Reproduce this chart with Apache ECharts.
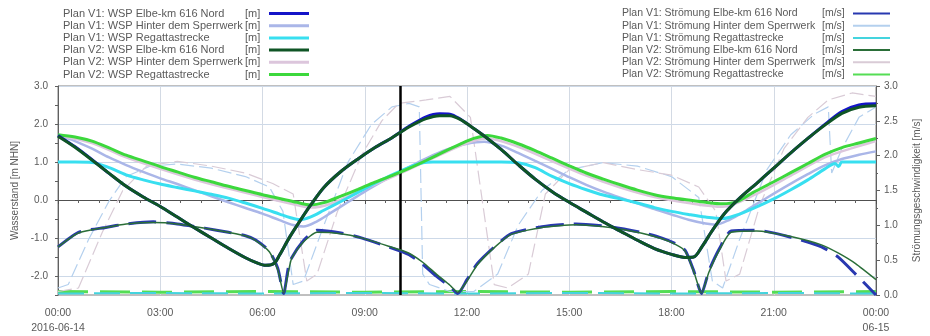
<!DOCTYPE html>
<html>
<head>
<meta charset="utf-8">
<script src="https://cdn.jsdelivr.net/npm/echarts@6/dist/echarts.min.js"></script>
<style>
  html, body { margin: 0; padding: 0; background: #fff; }
  #chart { width: 930px; height: 336px; }
</style>
</head>
<body>
<div id="chart"></div>
<script>
// Time axis: hours after 2016-06-14 00:00
const xTickLabels = ['00:00\n2016-06-14', '03:00', '06:00', '09:00', '12:00', '15:00', '18:00', '21:00', '00:00\n06-15'];
const nowHour = 10.05;

// Wasserstand [m NHN], pairs of [hour, value]
const wspV1Elbe = [[0,1.70],[0.5,1.40],[1,1.06],[1.5,0.70],[2,0.36],[2.5,0.08],[3,-0.17],[3.5,-0.45],[4,-0.73],[4.5,-1.0],[5,-1.27],[5.5,-1.52],[5.8,-1.64],[6.1,-1.72],[6.35,-1.66],[6.5,-1.45],[6.8,-0.97],[7.1,-0.55],[7.4,-0.15],[7.8,0.33],[8.3,0.75],[8.8,1.08],[9.3,1.38],[9.8,1.64],[10.3,1.94],[10.8,2.19],[11.2,2.27],[11.5,2.26],[11.8,2.13],[12.2,1.88],[12.6,1.62],[13,1.33],[13.5,0.93],[14,0.55],[14.5,0.22],[15,-0.06],[15.5,-0.32],[16,-0.58],[16.5,-0.82],[17,-1.06],[17.5,-1.28],[18,-1.43],[18.4,-1.51],[18.65,-1.50],[18.9,-1.22],[19.2,-0.80],[19.55,-0.36],[20,0.05],[20.5,0.44],[21,0.84],[21.5,1.24],[22,1.62],[22.5,1.99],[23,2.33],[23.5,2.50],[24,2.53]];
const wspV1Hinter = [[0,1.70],[0.5,1.55],[1,1.35],[1.5,1.12],[2,0.92],[2.5,0.74],[3,0.57],[3.5,0.42],[4,0.26],[4.5,0.10],[5,-0.06],[5.5,-0.21],[6,-0.36],[6.5,-0.53],[6.9,-0.66],[7.2,-0.70],[7.6,-0.56],[8,-0.34],[8.5,-0.06],[9,0.22],[9.5,0.48],[10,0.73],[10.5,0.96],[11,1.18],[11.5,1.36],[12,1.48],[12.5,1.53],[13,1.43],[13.5,1.24],[14,1.03],[14.5,0.82],[15,0.60],[15.5,0.40],[16,0.22],[16.5,0.06],[17,-0.09],[17.5,-0.24],[18,-0.38],[18.5,-0.52],[19,-0.62],[19.3,-0.65],[19.7,-0.52],[20.2,-0.27],[20.8,0.06],[21.4,0.38],[22,0.68],[22.5,0.91],[23,1.08],[23.5,1.19],[24,1.28]];
const wspV1Regatta = [[0,1.0],[0.5,1.0],[1,0.99],[1.5,0.85],[2,0.66],[2.5,0.53],[3,0.42],[3.5,0.33],[4,0.24],[4.5,0.15],[5,0.05],[5.5,-0.08],[6,-0.22],[6.5,-0.37],[6.8,-0.46],[7.1,-0.52],[7.4,-0.45],[7.8,-0.27],[8.3,-0.04],[8.8,0.20],[9.3,0.44],[9.8,0.66],[10.3,0.86],[10.7,0.98],[11,1.0],[12,1.0],[13,1.0],[13.5,0.98],[14,0.85],[14.5,0.62],[15,0.43],[15.5,0.27],[16,0.13],[16.5,0.03],[17,-0.08],[17.5,-0.20],[18,-0.30],[18.5,-0.38],[19,-0.45],[19.5,-0.49],[19.9,-0.40],[20.4,-0.22],[21,0.03],[21.5,0.27],[22,0.53],[22.5,0.82],[22.8,0.96],[22.9,0.88],[23,1.0],[24,1.0]];
const wspV2Elbe = [[0,1.68],[0.5,1.39],[1,1.05],[1.5,0.70],[2,0.36],[2.5,0.08],[3,-0.17],[3.5,-0.45],[4,-0.73],[4.5,-1.0],[5,-1.27],[5.5,-1.52],[5.8,-1.64],[6.1,-1.72],[6.35,-1.66],[6.5,-1.45],[6.8,-0.97],[7.1,-0.55],[7.4,-0.15],[7.8,0.33],[8.3,0.75],[8.8,1.08],[9.3,1.38],[9.8,1.64],[10.3,1.92],[10.8,2.14],[11.2,2.22],[11.5,2.22],[11.8,2.12],[12.2,1.88],[12.6,1.62],[13,1.33],[13.5,0.93],[14,0.55],[14.5,0.22],[15,-0.06],[15.5,-0.32],[16,-0.58],[16.5,-0.82],[17,-1.06],[17.5,-1.28],[18,-1.43],[18.4,-1.51],[18.65,-1.50],[18.9,-1.22],[19.2,-0.80],[19.55,-0.36],[20,0.05],[20.5,0.44],[21,0.84],[21.5,1.24],[22,1.62],[22.5,1.97],[23,2.28],[23.5,2.44],[24,2.48]];
const wspV2Hinter = [[0,1.70],[1,1.50],[2,1.12],[3,0.82],[4,0.54],[5,0.30],[6,0.08],[7,-0.13],[7.4,-0.20],[8,-0.10],[9,0.30],[10,0.68],[11,1.10],[12,1.50],[12.6,1.62],[13.5,1.40],[14.5,1.02],[15.5,0.64],[16.5,0.33],[17.5,0.08],[18.5,-0.08],[19.5,-0.18],[20.4,0.12],[21.5,0.64],[22.5,1.12],[23.5,1.42],[24,1.55]];
const wspV2Regatta = [[0,1.72],[0.5,1.66],[1,1.55],[1.5,1.37],[2,1.18],[2.5,1.03],[3,0.88],[3.5,0.74],[4,0.60],[4.5,0.48],[5,0.36],[5.5,0.25],[6,0.14],[6.5,0.04],[7,-0.06],[7.4,-0.13],[7.8,-0.07],[8.3,0.10],[8.8,0.28],[9.3,0.47],[9.8,0.64],[10.3,0.83],[10.8,1.04],[11.3,1.26],[11.8,1.47],[12.2,1.62],[12.6,1.70],[13,1.63],[13.5,1.48],[14,1.30],[14.5,1.10],[15,0.90],[15.5,0.71],[16,0.55],[16.5,0.40],[17,0.26],[17.5,0.14],[18,0.06],[18.5,0.0],[19,-0.06],[19.5,-0.10],[19.9,-0.05],[20.4,0.20],[21,0.48],[21.5,0.72],[22,0.96],[22.5,1.20],[23,1.38],[23.5,1.50],[24,1.62]];

// Strömungsgeschwindigkeit [m/s], pairs of [hour, value]
const strV1Elbe = [[0,0.69],[0.6,0.90],[1.4,0.97],[2,1.02],[2.8,1.05],[3.5,1.02],[4.3,0.96],[5,0.90],[5.5,0.85],[5.8,0.79],[6.2,0.63],[6.45,0.38],[6.62,0.02],[6.8,0.48],[7.2,0.78],[7.6,0.93],[8.3,0.89],[8.9,0.82],[9.7,0.69],[10.3,0.58],[10.7,0.44],[11.1,0.27],[11.5,0.12],[11.73,0.02],[12,0.22],[12.3,0.45],[12.8,0.69],[13.3,0.88],[14.2,0.98],[15.2,1.02],[16.2,0.98],[17.1,0.90],[17.7,0.82],[18.1,0.74],[18.4,0.64],[18.65,0.35],[18.88,0.02],[19.1,0.35],[19.4,0.66],[19.75,0.92],[20.5,0.93],[21.5,0.83],[22.4,0.69],[22.9,0.54],[23.4,0.30],[24,0.0]];
const strV1Hinter = [[0,0.10],[0.3,0.15],[0.9,0.80],[1.5,1.35],[2,1.70],[2.7,1.85],[3.5,1.88],[4.5,1.82],[5.5,1.70],[6.2,1.55],[6.6,1.20],[6.9,0.15],[7.2,0.20],[7.8,1.00],[8.5,1.90],[9.2,2.45],[9.8,2.70],[10.3,2.75],[10.6,2.70],[10.7,0.30],[10.9,0.15],[11.5,0.05],[12.2,0.05],[12.9,0.30],[13.5,1.00],[14.2,1.50],[15,1.80],[16,1.90],[17,1.85],[18,1.70],[18.8,1.40],[19.2,0.20],[19.5,0.10],[20,0.80],[20.8,1.80],[21.5,2.30],[22.2,2.60],[22.6,2.70],[22.7,1.75],[23,2.10],[23.5,2.55],[24,2.70]];
const strV1Regatta = [[0,0.02],[3,0.03],[6,0.02],[9,0.03],[12,0.02],[15,0.03],[18,0.02],[21,0.03],[24,0.02]];
const strV2Elbe = [[0,0.69],[0.6,0.89],[1.4,0.97],[2,1.02],[2.8,1.04],[3.5,1.02],[4.3,0.96],[5,0.90],[5.5,0.85],[5.8,0.78],[6.2,0.62],[6.45,0.36],[6.62,0.03],[6.85,0.52],[7.2,0.76],[7.6,0.90],[8.3,0.88],[8.9,0.82],[9.7,0.70],[10.3,0.60],[10.7,0.47],[11.1,0.30],[11.5,0.14],[11.73,0.04],[12,0.20],[12.3,0.43],[12.8,0.68],[13.3,0.87],[14.2,0.97],[15.2,1.01],[16.2,0.97],[17.1,0.89],[17.7,0.81],[18.1,0.73],[18.4,0.63],[18.65,0.34],[18.88,0.03],[19.1,0.33],[19.4,0.64],[19.75,0.90],[20.5,0.92],[21.5,0.84],[22.4,0.72],[22.9,0.60],[23.4,0.45],[24,0.22]];
const strV2Hinter = [[0,0.05],[0.6,0.10],[1.3,0.90],[1.9,1.50],[2.6,1.85],[3.5,1.92],[4.5,1.85],[5.5,1.75],[6.3,1.60],[6.9,1.45],[7.3,0.20],[7.6,0.30],[8.2,1.20],[8.9,2.00],[9.5,2.50],[10,2.75],[10.8,2.80],[11.5,2.85],[12.1,2.55],[12.8,0.15],[13.2,0.10],[13.8,0.30],[14.3,1.45],[15,1.80],[16,1.90],[17,1.80],[18,1.72],[18.8,1.55],[19.3,1.20],[19.6,0.20],[20,0.30],[20.6,1.30],[21.3,2.10],[22,2.55],[22.6,2.80],[23.3,2.90],[24,2.85]];
const strV2Regatta = [[0,0.05],[3,0.04],[6,0.05],[9,0.04],[12,0.05],[15,0.04],[18,0.05],[21,0.04],[24,0.05]];

const wspNames = ['Plan V1: WSP Elbe-km 616 Nord', 'Plan V1: WSP Hinter dem Sperrwerk', 'Plan V1: WSP Regattastrecke',
                  'Plan V2: WSP Elbe-km 616 Nord', 'Plan V2: WSP Hinter dem Sperrwerk', 'Plan V2: WSP Regattastrecke'];
const strNames = ['Plan V1: Strömung Elbe-km 616 Nord', 'Plan V1: Strömung Hinter dem Sperrwerk', 'Plan V1: Strömung Regattastrecke',
                  'Plan V2: Strömung Elbe-km 616 Nord', 'Plan V2: Strömung Hinter dem Sperrwerk', 'Plan V2: Strömung Regattastrecke'];

const FONT = 'Liberation Sans, Arial, sans-serif';
const TXT = '#5a5a5a';

function line(name, data, axis, color, width, dash, z, smooth) {
  return {
    name, type: 'line', data, yAxisIndex: axis, z,
    showSymbol: false, symbol: 'none', smooth: smooth, animation: false,
    color: color,
    lineStyle: { color, width, type: dash || 'solid' },
    itemStyle: { color },
    emphasis: { disabled: true }
  };
}

const series = [
  line(strNames[5], strV2Regatta, 1, '#55dd55', 3, [30, 12], 2, false),
  line(strNames[2], strV1Regatta, 1, '#44d4de', 2, [26, 10], 2, false),
  line(strNames[1], strV1Hinter, 1, '#b4d0ee', 1.2, [14, 5], 2, false),
  line(strNames[4], strV2Hinter, 1, '#d9cbd6', 1.2, [14, 5], 2, false),
  line(wspNames[1], wspV1Hinter, 0, '#aab6e8', 2.5, null, 3, 0.3),
  line(wspNames[4], wspV2Hinter, 0, '#dcc6dc', 2.5, null, 3, 0.3),
  line(wspNames[2], wspV1Regatta, 0, '#38dff0', 3, null, 4, 0.3),
  line(wspNames[5], wspV2Regatta, 0, '#3cd83c', 3, null, 5, 0.3),
  line(strNames[0], strV1Elbe, 1, '#2838b0', 3, [28, 10], 6, 0.2),
  line(strNames[3], strV2Elbe, 1, '#2a6e38', 1.5, null, 6, 0.2),
  line(wspNames[0], wspV1Elbe, 0, '#1414c8', 3, null, 7, 0.3),
  line(wspNames[3], wspV2Elbe, 0, '#0f5525', 3, null, 8, 0.3)
];

// current-time marker
series[11].markLine = {
  silent: true, symbol: 'none', animation: false,
  label: { show: false },
  lineStyle: { color: '#000', width: 2.5, type: 'solid' },
  data: [{ xAxis: nowHour }]
};

function legendBlock(names, unit, left, nameWidth, unitWidth, iconW, iconH, size) {
  const txt = { fontFamily: FONT, fontSize: size, color: TXT, lineHeight: 10 };
  return {
    data: names, orient: 'vertical', left, top: 3, itemGap: 1.2,
    itemWidth: iconW, itemHeight: iconH, icon: 'rect', align: 'right',
    selectedMode: false,
    textStyle: Object.assign({}, txt, {
      rich: {
        n: Object.assign({ width: nameWidth, align: 'left' }, txt),
        u: Object.assign({ width: unitWidth, align: 'left' }, txt)
      }
    }),
    formatter: name => '{n|' + name + '}{u|' + unit + '}'
  };
}

const chart = echarts.init(document.getElementById('chart'), null, { renderer: 'canvas' });
chart.setOption({
  animation: false,
  backgroundColor: '#fff',
  legend: [
    legendBlock(wspNames, '[m]', 58, 182, 19, 40, 3, 11),
    legendBlock(strNames, '[m/s]', 617, 200, 26, 37, 2, 10.5)
  ],
  grid: { left: 58, right: 43, top: 86, bottom: 40, show: true, borderColor: '#808080', borderWidth: 1 },
  xAxis: {
    type: 'value', min: 0, max: 24, interval: 3,
    axisLine: { lineStyle: { color: '#505050' } },
    axisTick: { length: 4, lineStyle: { color: '#505050' } },
    minorTick: { show: true, splitNumber: 5, length: 3, lineStyle: { color: '#606060' } },
    splitLine: { show: true, lineStyle: { color: '#d3dae4', width: 1 } },
    axisLabel: {
      fontFamily: FONT, fontSize: 10.5, color: TXT, lineHeight: 15, margin: 11,
      formatter: v => xTickLabels[Math.round(v / 3)]
    }
  },
  yAxis: [
    {
      type: 'value', min: -2.5, max: 3, interval: 0.5, position: 'left',
      name: 'Wasserstand [m NHN]', nameLocation: 'middle', nameRotate: 90, nameGap: 31,
      nameTextStyle: { fontFamily: FONT, fontSize: 10, color: TXT },
      axisLine: { show: true, lineStyle: { color: '#606060' } },
      axisTick: { show: true, length: 3, lineStyle: { color: '#606060' } },
      splitLine: { show: true, lineStyle: { color: ['rgba(0,0,0,0)', '#cdd9e8'], width: 1 } },
      axisLabel: {
        fontFamily: FONT, fontSize: 10, color: TXT, margin: 10,
        formatter: v => Number.isInteger(v) ? v.toFixed(1) : ''
      }
    },
    {
      type: 'value', min: 0, max: 3, interval: 0.5, position: 'right',
      name: 'Strömungsgeschwindigkeit [m/s]', nameLocation: 'middle', nameRotate: 90, nameGap: 36,
      nameTextStyle: { fontFamily: FONT, fontSize: 10, color: TXT },
      axisLine: { show: true, lineStyle: { color: '#606060' } },
      axisTick: { show: true, length: 4, lineStyle: { color: '#606060' } },
      minorTick: { show: true, splitNumber: 2, length: 2, lineStyle: { color: '#606060' } },
      splitLine: { show: false },
      axisLabel: {
        fontFamily: FONT, fontSize: 10, color: TXT, margin: 8,
        formatter: v => v.toFixed(1)
      }
    }
  ],
  series
});
</script>
</body>
</html>
